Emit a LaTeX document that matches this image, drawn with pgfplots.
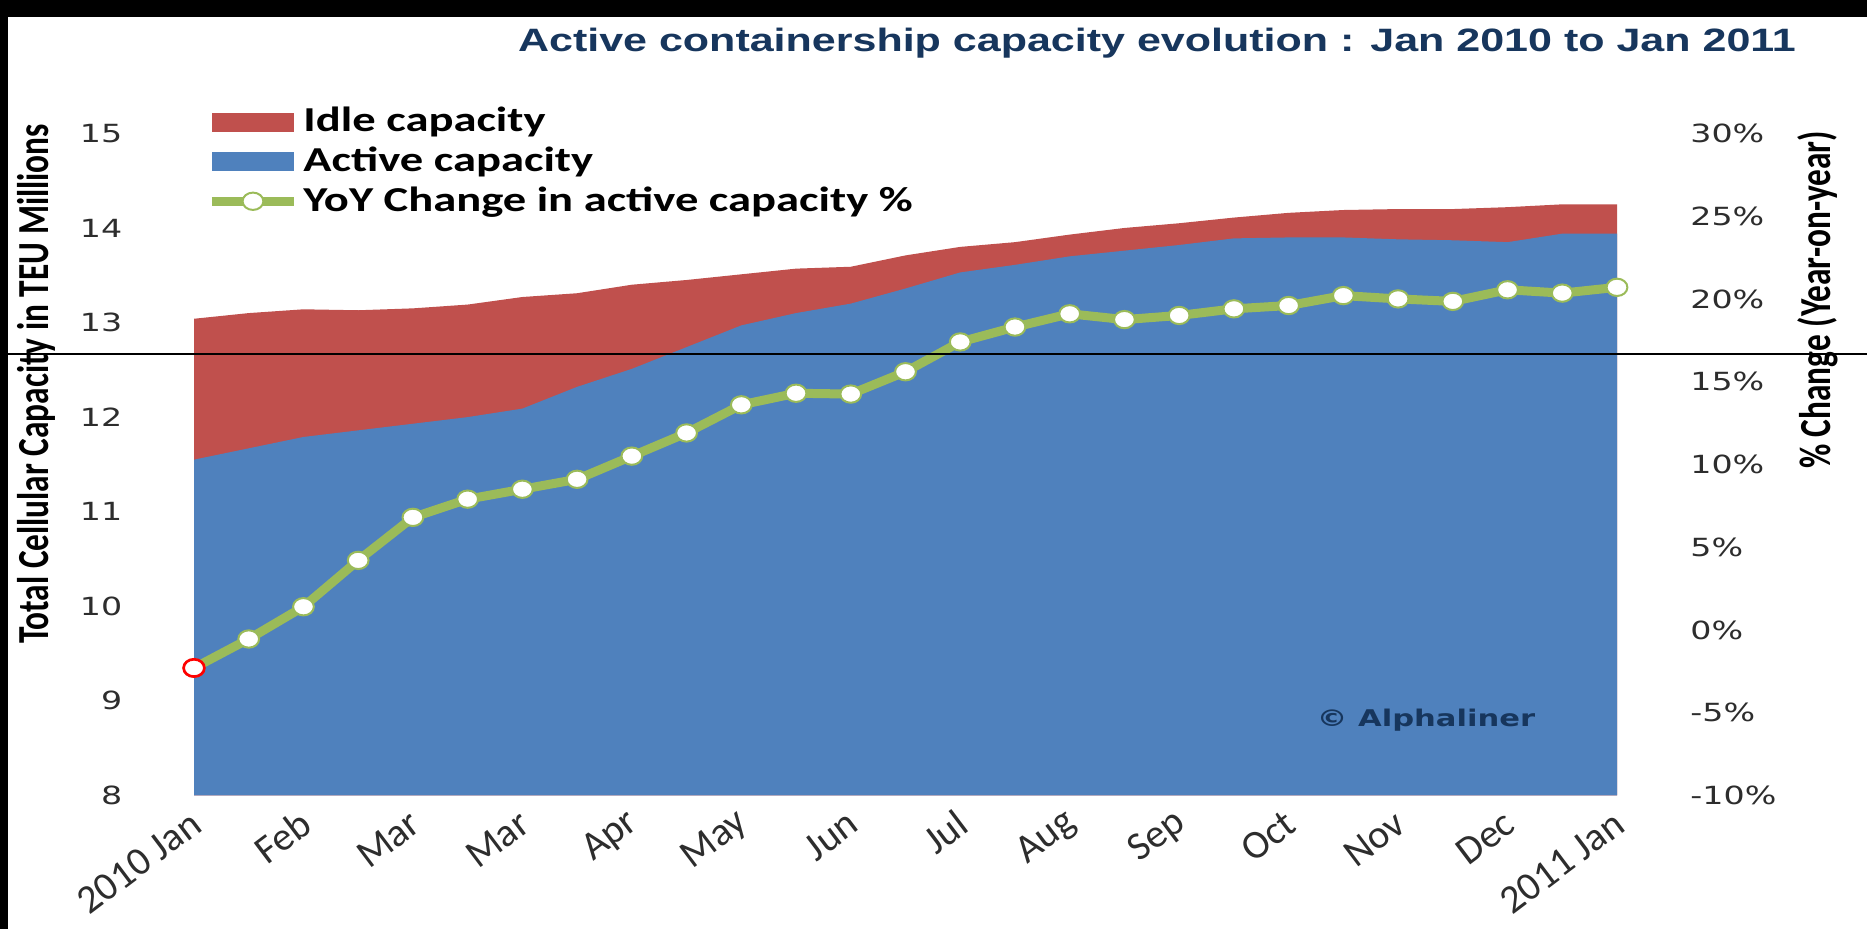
\documentclass[border=0pt]{standalone}
\usepackage{pgfplots}
\pgfplotsset{compat=1.18}
\usetikzlibrary{backgrounds}
\usepackage{fontspec}
\setmainfont{Carlito}
\newfontfamily\verd{DejaVu Sans}
\newfontfamily\arialf{Liberation Sans}

\definecolor{idlered}{RGB}{192,80,77}
\definecolor{actblue}{RGB}{79,129,189}
\definecolor{yoygreen}{RGB}{155,187,89}
\definecolor{titlenavy}{RGB}{23,54,93}
\definecolor{tickgray}{RGB}{45,45,45}

% the reference is stretched sideways, so text is too
\newcommand{\st}[1]{\scalebox{1.33}[1]{#1}}

\pgfplotsset{
    yoylegend/.style={legend image code/.code={%
        \draw[mark repeat=2, mark phase=2, ##1] plot coordinates {(0pt,0pt) (12.3pt,0pt) (24.6pt,0pt)};}},
    swatch/.style={legend image code/.code={%
        \fill[##1] (0pt,-2.85pt) rectangle (24.6pt,2.85pt);}},
}

% total = active + idle, in million TEU; yoy in %
\pgfplotstableread{
x  total  active  yoy
0  13.04  11.55  -2.3
1  13.10  11.67  -0.55
2  13.14  11.79   1.4
3  13.13  11.86   4.2
4  13.15  11.93   6.8
5  13.19  12.00   7.9
6  13.27  12.09   8.5
7  13.31  12.32   9.1
8  13.40  12.51  10.5
9  13.45  12.74  11.9
10 13.51  12.97  13.6
11 13.57  13.10  14.3
12 13.59  13.20  14.25
13 13.71  13.36  15.6
14 13.80  13.53  17.4
15 13.85  13.61  18.3
16 13.93  13.70  19.1
17 14.00  13.76  18.75
18 14.05  13.82  19.0
19 14.11  13.89  19.4
20 14.16  13.90  19.6
21 14.19  13.90  20.2
22 14.20  13.88  20.0
23 14.20  13.87  19.85
24 14.22  13.85  20.55
25 14.25  13.94  20.35
26 14.25  13.94  20.7
}\capdata

\begin{document}
\begin{tikzpicture}[x=1pt,y=1pt]

\begin{axis}[
    at={(58.2pt,40.08pt)}, anchor=south west,
    scale only axis, width=426.9pt, height=198.6pt,
    xmin=0, xmax=26, ymin=8, ymax=15,
    axis y line*=left, axis x line*=bottom,
    axis line style={draw=none}, major tick length=0pt,
    ytick={8,9,...,15},
    xtick={0,2,...,26},
    xticklabels={2010 Jan,Feb,Mar,Mar,Apr,May,Jun,Jul,Aug,Sep,Oct,Nov,Dec,2011 Jan},
    /pgf/number format/assume math mode=true,
    yticklabel={\st{\pgfmathprintnumber{\tick}}},
    yticklabel style={font=\verd\fontsize{7.5}{9}\selectfont, text=tickgray, anchor=east, xshift=-18pt},
    xticklabel style={font=\fontsize{12}{14}\selectfont, text=tickgray, xshift=3.5pt, yshift=-5pt, rotate=37, anchor=east},
]
\addplot[fill=idlered, draw=none] table[x=x, y=total] {\capdata} \closedcycle;
\addplot[fill=actblue, draw=none] table[x=x, y=active] {\capdata} \closedcycle;
\end{axis}

\begin{axis}[
    at={(58.2pt,40.08pt)}, anchor=south west,
    scale only axis, width=426.9pt, height=198.6pt,
    xmin=0, xmax=26, ymin=-10, ymax=30,
    axis y line*=right, axis x line=none,
    axis line style={draw=none}, major tick length=0pt,
    ytick={-10,-5,...,30},
    clip mode=individual,
    /pgf/number format/assume math mode=true,
    yticklabel={\st{\pgfmathprintnumber{\tick}\%}},
    yticklabel style={font=\verd\fontsize{7.5}{9}\selectfont, text=tickgray, anchor=west, xshift=18.5pt},
    legend cell align=left,
    legend style={at={(0.009,1.048)}, anchor=north west, draw=none, fill=none,
        inner sep=0pt, row sep=0pt,
        nodes={inner sep=1.5pt},
        font=\bfseries\fontsize{10.5}{12}\selectfont},
]
\addlegendimage{swatch, fill=idlered, draw=none}
\addlegendentry{\st{Idle capacity}}
\addlegendimage{swatch, fill=actblue, draw=none}
\addlegendentry{\st{Active capacity}}
\addplot[yoygreen, line width=2.7pt, mark=*, mark size=2.6pt,
    mark options={fill=white, draw=yoygreen, line width=0.6pt, xscale=1.2}, yoylegend]
    table[x=x, y=yoy] {\capdata};
\addlegendentry{\st{YoY Change in active capacity \%}}
\addplot[only marks, mark=*, mark size=2.6pt, forget plot,
    mark options={fill=white, draw=red, line width=0.8pt, xscale=1.2}]
    coordinates {(0,-2.3)};
\end{axis}

% titles and labels
\node[font=\arialf\bfseries\fontsize{9.7}{11}\selectfont, text=titlenavy] at (347.1,265.8)
    {\st{Active containership capacity evolution : Jan 2010 to Jan 2011}};
\node[rotate=90, font=\bfseries\fontsize{10}{12}\selectfont] at (10.8,163.5)
    {\scalebox{1}[1.33]{Total Cellular Capacity in TEU Millions}};
\node[rotate=90, font=\bfseries\fontsize{10}{12}\selectfont] at (545.4,188.7)
    {\scalebox{1}[1.33]{\% Change (Year-on-year)}};
\node[font=\verd\bfseries\fontsize{6.9}{8}\selectfont, text=titlenavy] at (427.8,62.7)
    {\st{\textcopyright\ Alphaliner}};

% page frame, with the black scan edges of the reference
\pgfresetboundingbox
\path[use as bounding box] (0,0) rectangle (560.1,278.7);
\begin{scope}[on background layer]
\fill[white] (0,0) rectangle (560.1,278.7);
\end{scope}
\fill[black] (0,273.6) rectangle (560.1,278.7);
\fill[black] (0,0) rectangle (2.4,278.7);
\draw[black, line width=0.5pt] (0,172.5) -- (560.1,172.5);
\end{tikzpicture}
\end{document}
